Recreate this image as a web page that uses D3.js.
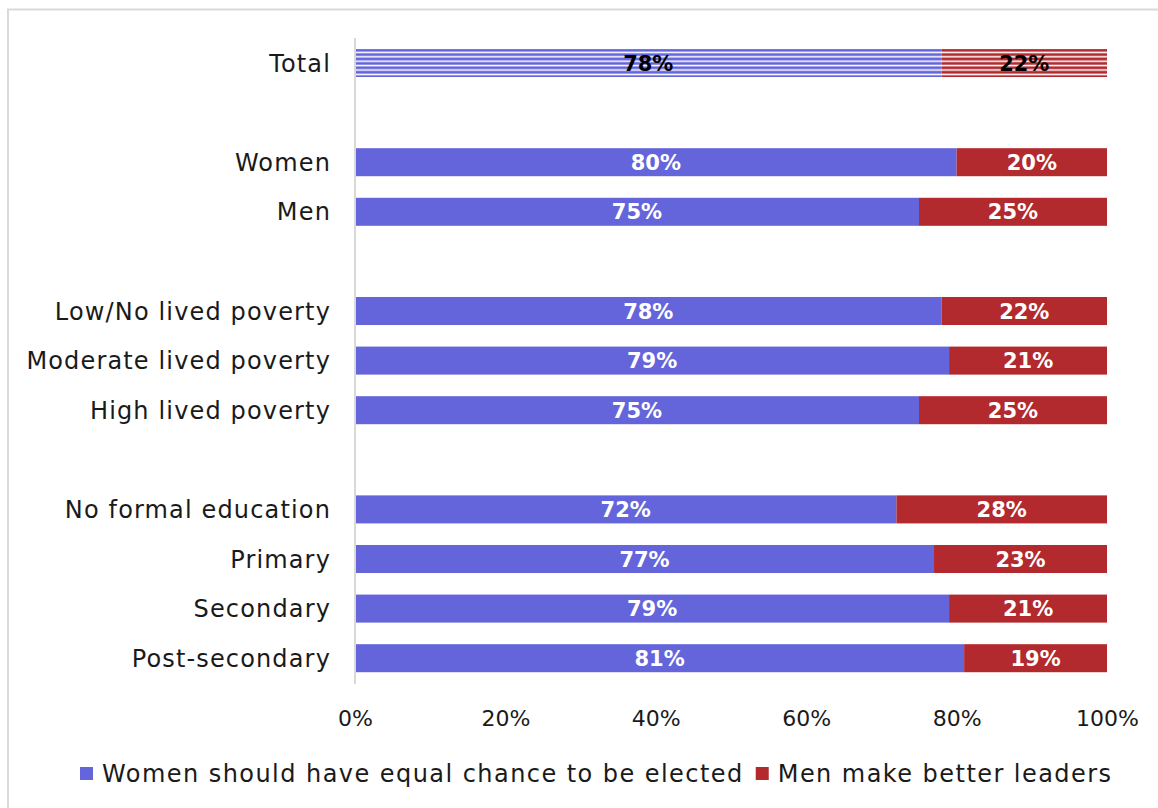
<!DOCTYPE html>
<html>
<head>
<meta charset="utf-8">
<script src="https://cdn.jsdelivr.net/npm/d3@7"></script>
<style>
  html, body { margin: 0; padding: 0; background: #fff; }
  svg { display: block; }
</style>
</head>
<body>
<svg id="chart" width="1158" height="808"></svg>
<script>
// Row labels, top to bottom; empty strings are spacer rows between groups
const categories = [
  "Total", "", "Women", "Men", "",
  "Low/No lived poverty", "Moderate lived poverty", "High lived poverty", "",
  "No formal education", "Primary", "Secondary", "Post-secondary"
];
// Share (%) saying women should have an equal chance to be elected
const equalChance = [78, null, 80, 75, null, 78, 79, 75, null, 72, 77, 79, 81];
// Share (%) saying men make better leaders
const menBetter = [22, null, 20, 25, null, 22, 21, 25, null, 28, 23, 21, 19];
const tickValues = [0, 20, 40, 60, 80, 100];
const seriesNames = ["Women should have equal chance to be elected", "Men make better leaders"];

const colors = ["#6565db", "#b2292e"];
const fontFamily = "'DejaVu Sans', sans-serif";
const labelSize = 24;
const labelSpacing = 1.15;
const legendSpacing = 1.45;

const svg = d3.select("#chart");

// Outer frame of the chart area
svg.append("path")
  .attr("d", "M8,1000 L8,9.5 L1200,9.5")
  .attr("fill", "none")
  .attr("stroke", "#d9d9d9")
  .attr("stroke-width", 2);

const x = d3.scaleLinear().domain([0, 100]).range([355, 1107]);
const y = d3.scaleBand()
  .domain(d3.range(categories.length))
  .range([38.2, 683])
  .paddingInner(0.435)
  .paddingOuter(0.2175);

// Striped fills used by the "Total" row
const defs = svg.append("defs");
colors.forEach((c, i) => {
  const p = defs.append("pattern")
    .attr("id", "stripe" + i)
    .attr("patternUnits", "userSpaceOnUse")
    .attr("width", 8).attr("height", 4.4);
  p.append("rect").attr("width", 8).attr("height", 4.4).attr("fill", "#fff");
  p.append("rect").attr("y", 0.4).attr("width", 8).attr("height", 2.8).attr("fill", c);
});

const rows = categories.map((c, i) => ({ i, cat: c, a: equalChance[i], b: menBetter[i] }))
  .filter(d => d.cat !== "");

const g = svg.append("g");

// Segments and their value labels
rows.forEach(d => {
  const segs = [
    { x0: 0, x1: d.a, v: d.a, k: 0 },
    { x0: d.a, x1: d.a + d.b, v: d.b, k: 1 }
  ];
  segs.forEach(s => {
    g.append("rect")
      .attr("x", x(s.x0))
      .attr("y", y(d.i))
      .attr("width", x(s.x1) - x(s.x0))
      .attr("height", y.bandwidth())
      .attr("fill", d.i === 0 ? `url(#stripe${s.k})` : colors[s.k]);
    g.append("text")
      .attr("x", (x(s.x0) + x(s.x1)) / 2)
      .attr("y", y(d.i) + y.bandwidth() / 2)
      .attr("dy", "0.36em")
      .attr("text-anchor", "middle")
      .attr("font-family", fontFamily)
      .attr("font-weight", "bold")
      .attr("font-size", 21)
      .attr("fill", d.i === 0 ? "#000" : "#fff")
      .text(s.v + "%");
  });
  // Category label
  svg.append("text")
    .attr("x", 331)
    .attr("y", y(d.i) + y.bandwidth() / 2)
    .attr("dy", "0.36em")
    .attr("text-anchor", "end")
    .attr("font-family", fontFamily)
    .attr("font-size", labelSize)
    .attr("letter-spacing", labelSpacing)
    .attr("fill", "#1a1a1a")
    .text(d.cat);
});

// Vertical category axis line
svg.append("line")
  .attr("x1", 355).attr("x2", 355)
  .attr("y1", 38).attr("y2", 684)
  .attr("stroke", "#d9d9d9").attr("stroke-width", 2);

// Percentage axis
const xAxis = d3.axisBottom(x)
  .tickValues(tickValues)
  .tickFormat(d => d + "%")
  .tickSize(0)
  .tickPadding(0);
const ax = svg.append("g").attr("transform", "translate(0,718)").call(xAxis);
ax.select(".domain").remove();
ax.selectAll("text")
  .attr("dy", "0.36em")
  .attr("font-family", fontFamily)
  .attr("font-size", 22)
  .attr("fill", "#1a1a1a");

// Legend
const legend = svg.append("g").attr("transform", "translate(80,773)");
let lx = 0;
seriesNames.forEach((name, i) => {
  const item = legend.append("g").attr("transform", `translate(${lx},0)`);
  item.append("rect").attr("x", 0).attr("y", -6).attr("width", 13).attr("height", 13).attr("fill", colors[i]);
  const t = item.append("text")
    .attr("x", 22).attr("dy", "0.36em")
    .attr("font-family", fontFamily)
    .attr("font-size", labelSize)
    .attr("letter-spacing", legendSpacing)
    .attr("fill", "#1a1a1a")
    .text(name);
  lx += 22 + t.node().getComputedTextLength() + 12;
});
</script>
</body>
</html>
